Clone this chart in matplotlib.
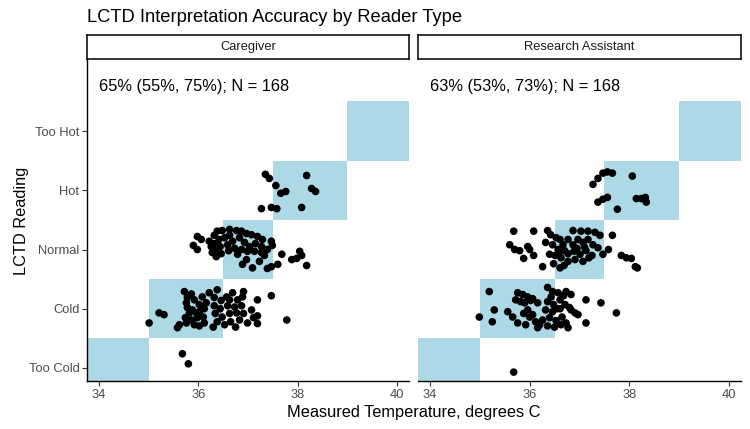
import matplotlib
matplotlib.use("Agg")
import matplotlib.pyplot as plt
from matplotlib.patches import Rectangle

plt.rcParams['font.family'] = ['Liberation Sans', 'DejaVu Sans']

reading_labels = ["Too Cold", "Cold", "Normal", "Hot", "Too Hot"]
zone_lo = [-100, 35.0, 36.5, 37.5, 39.0]
zone_hi = [35.0, 36.5, 37.5, 39.0, 100]
panels = ["Caregiver", "Research Assistant"]
annotations = ["65% (55%, 75%); N = 168", "63% (53%, 73%); N = 168"]

# Caregiver: measured temperature and jittered reading (1 = Too Cold ... 5 = Too Hot)
cg_temp = [35.68, 35.80,
           37.35, 37.43, 37.56, 37.66, 37.76, 38.18, 38.28, 38.36, 37.27, 37.47, 37.58, 38.08,
           35.98, 36.06, 35.90, 35.98, 36.28, 36.36, 36.38, 36.48, 36.63, 36.77, 36.87, 36.97,
           37.07, 37.19, 37.29, 37.47, 37.49, 37.68, 37.88, 37.98, 38.04, 38.08, 38.18, 36.89,
           36.97, 37.09, 37.39, 37.47, 37.60, 37.23, 37.33, 36.32, 36.42, 36.53, 36.32, 36.44,
           36.59, 36.69, 36.34, 36.46, 36.61, 36.73, 36.79, 36.93, 37.03, 37.15, 37.27, 36.99,
           37.13, 37.27, 37.39, 36.87, 36.63, 36.83, 36.22, 36.26,
           35.01, 35.21, 35.31, 35.72, 35.86, 35.76, 35.82, 35.62, 35.58, 36.08, 36.16, 35.96,
           36.12, 36.38, 36.57, 36.69, 36.89, 37.19, 37.47, 36.99, 37.19, 37.19, 37.78, 35.78,
           35.92, 36.02, 35.78, 35.88, 36.02, 36.12, 35.74, 35.86, 35.98, 36.10, 35.92, 35.76,
           36.02, 36.32, 36.46, 36.63, 36.79, 36.32, 36.44, 36.59, 36.73, 36.87, 36.34, 36.48,
           36.63, 36.77, 36.91, 36.38, 36.53, 36.65, 36.83, 36.30, 36.75, 37.07, 37.11, 36.22,
           36.91]
cg_read = [1.24, 1.07,
           4.27, 4.20, 4.08, 3.95, 3.98, 4.25, 4.03, 3.98, 3.69, 3.71, 3.69, 3.71,
           3.22, 3.17, 3.07, 3.00, 2.95, 2.88, 3.31, 3.32, 3.34, 3.32, 3.31, 3.27,
           3.25, 3.22, 3.17, 3.14, 3.07, 2.92, 2.83, 2.85, 2.97, 2.90, 2.73, 2.75,
           2.83, 2.69, 2.68, 2.71, 2.75, 2.80, 2.90, 3.24, 3.17, 3.20, 3.10, 3.05,
           3.08, 3.14, 2.98, 2.93, 2.98, 3.02, 2.92, 3.12, 3.05, 3.10, 3.05, 2.97,
           2.97, 2.95, 3.00, 3.00, 3.24, 3.20, 3.14, 3.05,
           1.76, 1.93, 1.90, 2.29, 2.25, 2.10, 1.93, 1.73, 1.68, 2.20, 2.10, 1.93,
           1.76, 2.32, 2.20, 2.27, 2.20, 2.15, 2.22, 1.76, 1.88, 1.75, 1.81, 2.19,
           2.15, 2.07, 2.02, 1.98, 1.95, 2.00, 1.85, 1.81, 1.85, 1.86, 1.73, 1.76,
           1.71, 2.19, 2.14, 2.15, 2.15, 2.05, 2.00, 2.05, 2.03, 2.05, 1.92, 1.86,
           1.92, 1.93, 1.92, 1.78, 1.73, 1.78, 1.81, 1.69, 1.69, 1.98, 1.85, 2.27,
           2.29]

# Research Assistant
ra_temp = [35.68,
           37.27, 37.37, 37.47, 37.56, 37.66, 38.06, 37.37, 37.47, 37.56, 37.76, 38.14, 38.24,
           38.32, 38.34,
           35.68, 36.08, 35.60, 35.70, 35.80, 35.96, 36.00, 35.88, 36.08, 36.26, 36.36, 36.42,
           36.53, 36.61, 36.87, 37.03, 37.17, 37.31, 37.41, 37.66, 37.58, 37.47, 37.84, 37.94,
           38.04, 38.12, 38.16, 36.61, 36.69, 36.46, 36.57, 36.67, 36.77, 36.87, 36.97, 37.07,
           37.17, 37.27, 36.51, 36.63, 36.77, 36.89, 37.01, 37.13, 37.25, 36.77, 36.91, 37.07,
           37.19, 36.48, 37.37, 36.32, 36.58, 36.95, 37.10, 36.70, 36.40,
           35.19, 35.29, 35.25, 34.99, 35.56, 35.66, 35.76, 35.86, 35.96, 36.06, 36.16, 35.72,
           35.82, 35.76, 35.92, 36.36, 36.46, 36.57, 36.73, 36.83, 37.13, 37.43, 36.83, 36.91,
           36.97, 36.73, 36.77, 37.13, 37.74, 36.12, 36.20, 36.26, 36.16, 36.36, 36.48, 36.61,
           36.32, 36.46, 36.61, 36.71, 36.40, 36.53, 36.65, 36.36, 36.50, 36.63, 35.96, 36.06,
           35.90, 36.02, 36.68, 36.80, 36.55, 36.43, 35.88, 36.00]
ra_read = [0.93,
           4.10, 4.20, 4.29, 4.31, 4.29, 4.24, 3.80, 3.85, 3.88, 3.68, 3.86, 3.86,
           3.88, 3.80,
           3.31, 3.31, 3.08, 3.00, 2.98, 3.05, 3.00, 2.85, 2.90, 2.71, 3.32, 3.25,
           3.20, 3.17, 3.32, 3.31, 3.31, 3.29, 3.24, 3.24, 3.00, 2.92, 2.90, 2.86,
           2.85, 2.71, 2.69, 2.69, 2.73, 3.08, 3.00, 3.08, 3.17, 3.08, 3.17, 3.12,
           3.17, 3.08, 2.90, 2.86, 2.93, 2.97, 2.92, 2.98, 2.90, 2.80, 2.83, 2.80,
           2.86, 2.76, 3.03, 3.12, 2.94, 3.02, 3.04, 2.98, 2.92,
           2.29, 1.98, 1.78, 1.86, 1.95, 1.86, 2.27, 2.24, 2.20, 2.17, 2.10, 2.15,
           2.12, 1.76, 1.73, 2.36, 2.29, 2.27, 2.29, 2.24, 2.15, 2.10, 1.98, 1.93,
           1.90, 1.76, 1.68, 1.76, 1.93, 1.78, 1.73, 1.81, 1.68, 2.12, 2.07, 2.15,
           1.98, 1.95, 2.00, 2.07, 1.85, 1.80, 1.86, 1.71, 1.69, 1.73, 1.98, 1.90,
           2.10, 2.14, 2.22, 2.02, 2.00, 2.20, 1.92, 1.86]

data = [(cg_temp, cg_read), (ra_temp, ra_read)]

W, H = 750, 429
fig = plt.figure(figsize=(W / 100, H / 100), dpi=100)

panel_px = [(87, 409), (418, 741)]
top_px, bot_px = 60, 381
strip_top, strip_bot = 35, 59
xlim = (33.76, 40.24)
ylim = (0.78, 6.2)
blue = "#ADD8E6"

for i, ((x0, x1), name, ann, (tx, ry)) in enumerate(zip(panel_px, panels, annotations, data)):
    ax = fig.add_axes([x0 / W, 1 - bot_px / H, (x1 - x0) / W, (bot_px - top_px) / H])
    for k in range(5):
        ax.add_patch(Rectangle((zone_lo[k], k + 0.5), zone_hi[k] - zone_lo[k], 1.0,
                               facecolor=blue, edgecolor="none", zorder=1))
    ax.scatter(tx, ry, s=30, color="black", edgecolors="none", zorder=3)
    ax.text(34.0, 5.76, ann, fontsize=11.8, ha="left", va="center", color="black", zorder=4)
    ax.set_xlim(*xlim)
    ax.set_ylim(*ylim)
    ax.set_xticks([34, 36, 38, 40])
    ax.set_yticks([1, 2, 3, 4, 5])
    for s in ["top", "right"]:
        ax.spines[s].set_visible(False)
    ax.spines["bottom"].set_linewidth(1.0)
    ax.spines["left"].set_linewidth(1.0)
    ax.tick_params(axis="both", length=3.5, width=0.8, color="#333333",
                   labelsize=9.3, labelcolor="#4D4D4D", pad=2)
    if i == 0:
        ax.set_yticklabels(reading_labels)
        ax.set_ylabel("LCTD Reading", fontsize=11.8, labelpad=0)
    else:
        ax.spines["left"].set_visible(False)
        ax.tick_params(axis="y", left=False, labelleft=False)

    # strip
    sax = fig.add_axes([x0 / W, 1 - strip_bot / H, (x1 - x0) / W, (strip_bot - strip_top) / H])
    sax.set_xticks([])
    sax.set_yticks([])
    for s in sax.spines.values():
        s.set_linewidth(1.1)
        s.set_color("black")
    sax.text(0.5, 0.5, name, fontsize=9.3, color="#1A1A1A", ha="center", va="center",
             transform=sax.transAxes)

fig.text(87 / W, 1 - 17 / H, "LCTD Interpretation Accuracy by Reader Type",
         fontsize=13.2, ha="left", va="center")
fig.text((87 + 741) / 2 / W, 1 - 412 / H, "Measured Temperature, degrees C",
         fontsize=11.8, ha="center", va="center")

fig.savefig("out.png", dpi=100)
